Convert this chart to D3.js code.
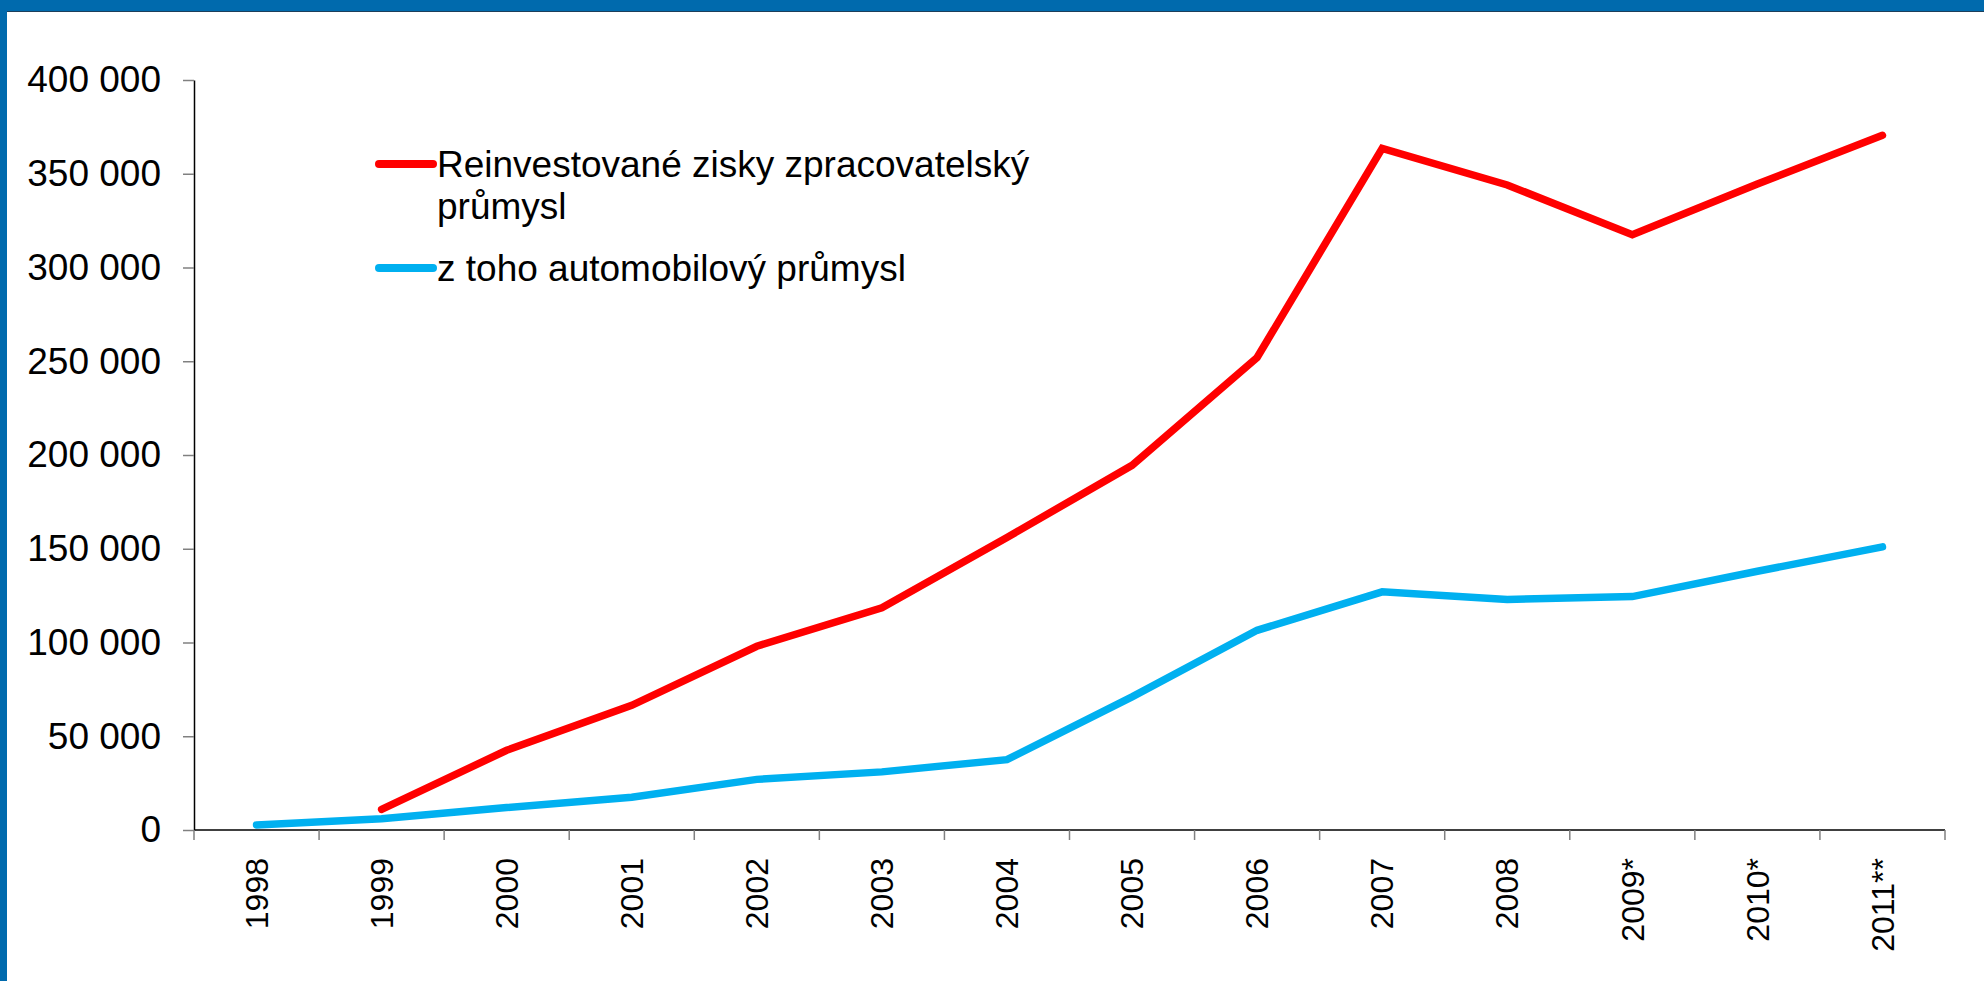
<!DOCTYPE html>
<html>
<head>
<meta charset="utf-8">
<script src="https://cdn.jsdelivr.net/npm/d3@7"></script>
<style>
  html, body { margin: 0; padding: 0; background: #fff; }
  svg { display: block; font-family: "Liberation Sans", Arial, sans-serif; }
</style>
</head>
<body>
<svg id="chart" width="1984" height="981"></svg>
<script>
const categories = ["1998","1999","2000","2001","2002","2003","2004","2005","2006","2007","2008","2009*","2010*","2011**"];
const reinvestedManufacturing = [null, 11000, 42500, 66500, 98000, 118500, 156000, 194500, 252000, 363500, 344000, 317500, 344500, 370500];
const automotive = [2700, 6000, 12000, 17500, 27000, 31000, 37500, 71000, 106500, 127000, 123000, 124500, 138000, 151000];
const yTicks = [0, 50000, 100000, 150000, 200000, 250000, 300000, 350000, 400000];
const seriesNames = ["Reinvestované zisky zpracovatelský", "průmysl", "z toho automobilový průmysl"];
const seriesColors = ["#FF0000", "#00B0F0"];

const svg = d3.select("#chart");

// frame
svg.append("rect").attr("x", 0).attr("y", 0).attr("width", 1984).attr("height", 11).attr("fill", "#006AAD");
svg.append("line").attr("x1", 0).attr("x2", 1984).attr("y1", 11.5).attr("y2", 11.5).attr("stroke", "#1d3f5a").attr("stroke-width", 1);
svg.append("rect").attr("x", 0).attr("y", 0).attr("width", 7).attr("height", 981).attr("fill", "#006AAD");

const x = d3.scaleBand().domain(categories).range([194, 1945]).padding(0);
const y = d3.scaleLinear().domain([0, 400000]).range([830, 80]);
const fmt = v => d3.format(",")(v).replace(/,/g, " ");

// y axis
const yAxis = svg.append("g").attr("transform", "translate(194,0)")
  .call(d3.axisLeft(y).tickValues(yTicks).tickSize(11).tickSizeOuter(0).tickPadding(22).tickFormat(fmt));
yAxis.select(".domain").attr("stroke", "#000").attr("stroke-width", 1.5);
yAxis.selectAll(".tick line").attr("stroke", "#808080").attr("stroke-width", 1.5);
yAxis.selectAll(".tick text").attr("font-size", 37).attr("fill", "#000")
  .attr("font-family", "'Liberation Sans', Arial, sans-serif");

// x axis
const xg = svg.append("g");
xg.append("line").attr("x1", 194).attr("x2", 1945).attr("y1", 830).attr("y2", 830)
  .attr("stroke", "#000").attr("stroke-width", 1.5);
const bounds = categories.map(c => x(c)).concat([x(categories[categories.length - 1]) + x.bandwidth()]);
xg.selectAll("line.xt").data(bounds).join("line").attr("class", "xt")
  .attr("x1", d => d).attr("x2", d => d).attr("y1", 830).attr("y2", 840)
  .attr("stroke", "#808080").attr("stroke-width", 1.5);
xg.selectAll("text.xl").data(categories).join("text").attr("class", "xl")
  .attr("transform", d => `translate(${x(d) + x.bandwidth() / 2},858) rotate(-90)`)
  .attr("text-anchor", "end").attr("dy", "0.35em")
  .attr("font-size", 32).attr("fill", "#000").text(d => d);

// lines
const line = d3.line()
  .defined(d => d != null)
  .x((d, i) => x(categories[i]) + x.bandwidth() / 2)
  .y(d => y(d));

[reinvestedManufacturing, automotive].forEach((s, k) => {
  svg.append("path").datum(s).attr("d", line)
    .attr("fill", "none").attr("stroke", seriesColors[k]).attr("stroke-width", 7.5)
    .attr("stroke-linecap", "round").attr("stroke-linejoin", "miter");
});

// legend
const leg = svg.append("g");
const legRows = [
  { color: seriesColors[0], sy: 164, lines: [[seriesNames[0], 177], [seriesNames[1], 219]] },
  { color: seriesColors[1], sy: 268, lines: [[seriesNames[2], 281]] }
];
legRows.forEach(r => {
  leg.append("line").attr("x1", 379).attr("x2", 433).attr("y1", r.sy).attr("y2", r.sy)
    .attr("stroke", r.color).attr("stroke-width", 8).attr("stroke-linecap", "round");
  r.lines.forEach(([t, by]) => {
    leg.append("text").attr("x", 437).attr("y", by)
      .attr("font-size", 37).attr("fill", "#000").text(t);
  });
});
</script>
</body>
</html>
